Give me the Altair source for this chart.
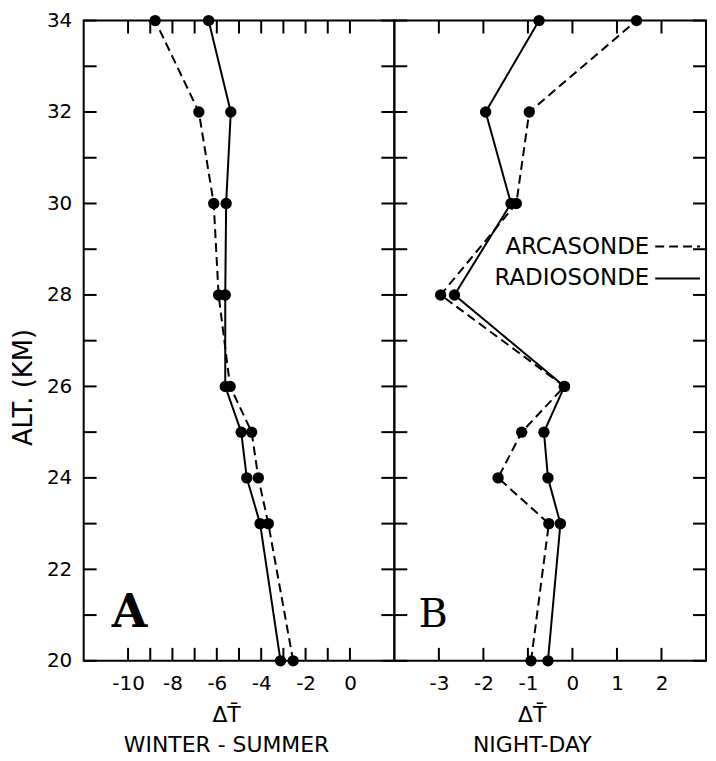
import altair as alt
import pandas as pd

# ---------------- data ----------------
altitude = [34, 32, 30, 28, 26, 25, 24, 23, 20]
series = ["ARCASONDE", "RADIOSONDE"]

# Panel A: winter - summer
a_arcasonde = [-8.78, -6.81, -6.14, -5.92, -5.40, -4.43, -4.13, -3.68, -2.56]
a_radiosonde = [-6.37, -5.37, -5.58, -5.62, -5.62, -4.90, -4.65, -4.05, -3.13]
# Panel B: night - day
b_arcasonde = [1.44, -0.97, -1.26, -2.96, -0.18, -1.14, -1.67, -0.53, -0.93]
b_radiosonde = [-0.75, -1.95, -1.38, -2.65, -0.18, -0.64, -0.55, -0.27, -0.55]

alt_minor_ticks = list(range(20, 35))
alt_labels = [20, 22, 24, 26, 28, 30, 32, 34]
a_domain = [-12, 2]
b_domain = [-4, 3]
a_minor_ticks = list(range(-10, 1))
a_labels = [-10, -8, -6, -4, -2, 0]
b_minor_ticks = [-3, -2, -1, 0, 1, 2]
b_labels = [-3, -2, -1, 0, 1, 2]
panel_letters = ["A", "B"]
x_titles = [["ΔT̄", "WINTER - SUMMER"], ["ΔT̄", "NIGHT-DAY"]]
y_title = "ALT.  (KM)"

FONT = "DejaVu Sans"
H = 643
TICK = 13


def panel(arca, radio, domain, minor, labels, title, letter, W, show_y,
          title_x, letter_x, letter_font, letter_size, letter_weight, legend):
    n = len(altitude)
    df = pd.DataFrame({
        "alt": altitude * 2,
        "dt": arca + radio,
        "series": [series[0]] * n + [series[1]] * n,
    })
    xscale = alt.Scale(domain=domain, nice=False, zero=False)
    yscale = alt.Scale(domain=[20, 34], nice=False, zero=False)
    xaxis = alt.Axis(values=labels, labelExpr="'' + datum.value", ticks=False,
                     domain=False, grid=False, labelFontSize=20, labelFont=FONT,
                     labelColor="black", labelPadding=13, labelFlush=False,
                     title=title, titleFont=FONT, titleFontSize=22,
                     titleFontWeight="normal", titleColor="black",
                     titleLineHeight=30, titleX=title_x, titleY=61,
                     titleBaseline="alphabetic", titleAlign="center")
    if show_y:
        yaxis = alt.Axis(values=alt_labels, ticks=False, domain=False, grid=False,
                         labelFontSize=20, labelFont=FONT, labelColor="black",
                         labelPadding=12, labelFlush=False, labelBaseline="middle",
                         title=y_title, titleFont=FONT, titleFontSize=26,
                         titleFontWeight="normal", titleColor="black",
                         titleAngle=270, titleX=-60, titleY=368,
                         titleAlign="center", titleBaseline="middle")
    else:
        yaxis = None

    dash = alt.StrokeDash("series:N",
                          scale=alt.Scale(domain=series, range=[[9, 5], [1, 0]]),
                          legend=None)
    lines = alt.Chart(df).mark_line(color="black", strokeWidth=2).encode(
        x=alt.X("dt:Q", scale=xscale, axis=xaxis),
        y=alt.Y("alt:Q", scale=yscale, axis=yaxis),
        strokeDash=dash,
        detail="series:N",
        order="alt:Q",
    )
    pts = alt.Chart(df).mark_point(filled=True, color="black", size=130,
                                   opacity=1).encode(
        x=alt.X("dt:Q", axis=xaxis),
        y=alt.Y("alt:Q", axis=yaxis),
    )
    yt = pd.DataFrame({"v": alt_minor_ticks})
    xt = pd.DataFrame({"v": minor})
    ytl = alt.Chart(yt).mark_rule(color="black", strokeWidth=2).encode(
        y=alt.Y("v:Q", axis=yaxis), x=alt.value(0), x2=alt.value(TICK))
    ytr = alt.Chart(yt).mark_rule(color="black", strokeWidth=2).encode(
        y=alt.Y("v:Q", axis=yaxis), x=alt.value(W - TICK), x2=alt.value(W))
    xtt = alt.Chart(xt).mark_rule(color="black", strokeWidth=2).encode(
        x=alt.X("v:Q", axis=xaxis), y=alt.value(0), y2=alt.value(TICK))
    xtb = alt.Chart(xt).mark_rule(color="black", strokeWidth=2).encode(
        x=alt.X("v:Q", axis=xaxis), y=alt.value(H - TICK), y2=alt.value(H))
    let = alt.Chart(pd.DataFrame({"t": [letter]})).mark_text(
        align="center", baseline="alphabetic", font=letter_font,
        fontSize=letter_size, fontWeight=letter_weight, color="black").encode(
        text="t:N", x=alt.value(letter_x), y=alt.value(609))
    layers = [lines, pts, ytl, ytr, xtt, xtb, let]
    if legend:
        dashes = [[9, 5], [1, 0]]
        for i, s in enumerate(series):
            sdf = pd.DataFrame({"s": [s]})
            layers.append(alt.Chart(sdf).mark_text(
                align="right", baseline="middle", font=FONT, fontSize=23,
                color="black").encode(text="s:N", x=alt.value(256),
                                      y=alt.value(227 + 32 * i)))
            layers.append(alt.Chart(sdf).mark_rule(
                color="black", strokeWidth=2, strokeDash=dashes[i]).encode(
                x=alt.value(262), x2=alt.value(307), y=alt.value(227 + 32 * i)))
    return alt.layer(*layers).properties(width=W, height=H)


pa = panel(a_arcasonde, a_radiosonde, a_domain, a_minor_ticks, a_labels,
           x_titles[0], panel_letters[0], 312, True, 143, 46,
           "DejaVu Serif", 46, "bold", False)
pb = panel(b_arcasonde, b_radiosonde, b_domain, b_minor_ticks, b_labels,
           x_titles[1], panel_letters[1], 313, False, 138, 39,
           "DejaVu Serif", 40, "normal", True)

chart = alt.hconcat(pa, pb, spacing=0, bounds="flush").properties(
    padding={"left": 2, "top": 0, "right": 0, "bottom": 0},
).configure_view(stroke="black", strokeWidth=2)

chart.save("out.html", embed_options={"renderer": "svg", "actions": False})
